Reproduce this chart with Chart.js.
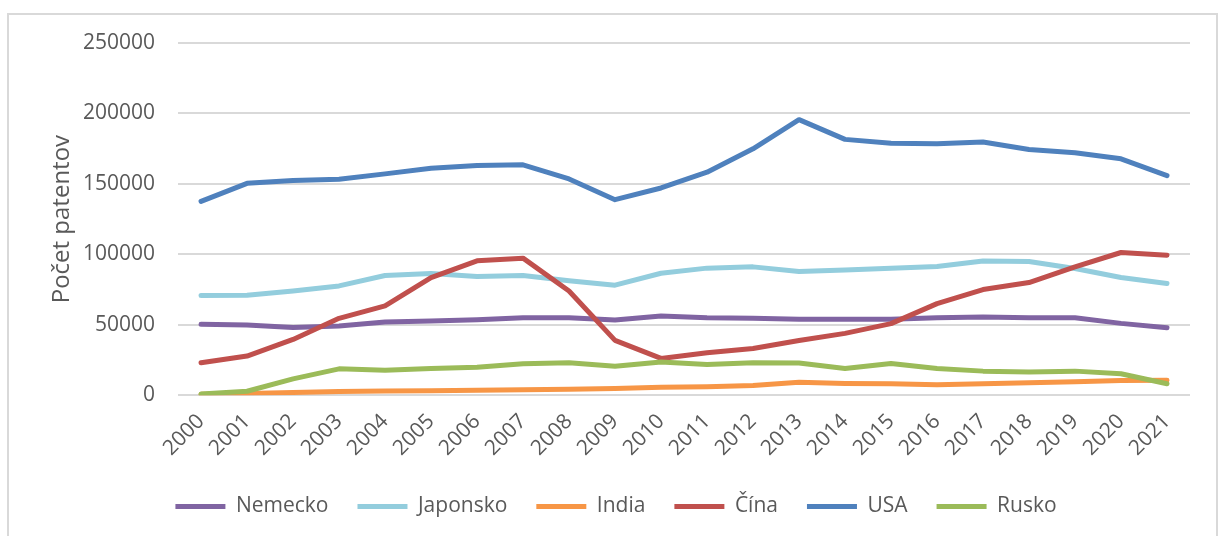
<!DOCTYPE html>
<html>
<head>
<meta charset="utf-8">
<script src="https://cdn.jsdelivr.net/npm/chart.js@4"></script>
<style>
  html, body { margin: 0; padding: 0; background: #fff; }
  #wrap { position: relative; width: 1219px; height: 536px; }
  #frame {
    position: absolute; left: 7px; top: 13px; width: 1211px; height: 540px;
    border: 2px solid #d9d9d9; box-sizing: border-box; pointer-events: none;
  }
</style>
</head>
<body>
<div id="wrap">
  <canvas id="patentChart" width="1219" height="536"></canvas>
  <div id="frame"></div>
</div>
<script>
const years = ["2000", "2001", "2002", "2003", "2004", "2005", "2006", "2007", "2008", "2009", "2010",
  "2011", "2012", "2013", "2014", "2015", "2016", "2017", "2018", "2019", "2020", "2021"];

const nemecko = [50300, 49800, 48000, 49100, 52000, 52700, 53600, 55000, 55000, 53400, 56200,
  55000, 54600, 53900, 53900, 53900, 55000, 55500, 55000, 55000, 51000, 47900];
const japonsko = [70700, 71000, 74000, 77600, 85000, 86400, 84300, 85000, 81200, 78100, 86600,
  90200, 91100, 87800, 88800, 90200, 91400, 95200, 94900, 89900, 83500, 79300];
const india = [700, 1200, 2000, 2700, 3000, 3200, 3600, 3800, 4300, 4700, 5600,
  6000, 6900, 9200, 8300, 8100, 7500, 8100, 8800, 9500, 10400, 10600];
const cina = [23000, 27800, 39600, 54600, 63400, 83500, 95400, 97300, 74000, 38900, 26100,
  30100, 33200, 38900, 43900, 50800, 65000, 75000, 80000, 91100, 101300, 99400];
const usa = [137600, 150400, 152400, 153300, 157100, 161100, 163000, 163500, 153500, 138800, 147100,
  158300, 174900, 195600, 181600, 178900, 178500, 179700, 174400, 172100, 167800, 155900];
const rusko = [900, 2800, 11600, 18700, 17800, 19000, 19900, 22300, 23000, 20600, 23500,
  21800, 23000, 22800, 19000, 22500, 19000, 17100, 16400, 17100, 15200, 8100];

const seriesNames = ["Nemecko", "Japonsko", "India", "Čína", "USA", "Rusko"];
const seriesData = [nemecko, japonsko, india, cina, usa, rusko];
const seriesColors = ["#8064a2", "#93cddd", "#f79646", "#c0504d", "#4f81bd", "#9bbb59"];

const font = "'Open Sans', 'DejaVu Sans', sans-serif";
const textColor = "#595959";

// later series are drawn on top, like in the original
const datasets = seriesNames.map((name, i) => ({
  label: name,
  data: seriesData[i],
  borderColor: seriesColors[i],
  backgroundColor: seriesColors[i],
  borderWidth: 5,
  borderCapStyle: "round",
  borderJoinStyle: "round",
  pointRadius: 0,
  pointHoverRadius: 0,
  tension: 0,
  fill: false,
  order: seriesNames.length - i,
}));

new Chart(document.getElementById("patentChart"), {
  type: "line",
  data: { labels: years, datasets: datasets },
  options: {
    responsive: false,
    animation: false,
    layout: { padding: { left: 42, right: 29, top: 43, bottom: 9 } },
    plugins: {
      tooltip: { enabled: false },
      legend: {
        position: "bottom",
        labels: {
          usePointStyle: true,
          pointStyle: "line",
          pointStyleWidth: 50,
          boxHeight: 20,
          padding: 29,
          color: textColor,
          font: { family: font, size: 21 },
          sort: (a, b) => a.datasetIndex - b.datasetIndex,
        },
      },
    },
    scales: {
      x: {
        offset: true,
        grid: { display: false },
        border: { display: false },
        ticks: {
          color: textColor,
          font: { family: font, size: 21 },
          minRotation: 45,
          maxRotation: 45,
          padding: 6,
        },
      },
      y: {
        min: 0,
        max: 250000,
        border: { display: false },
        grid: { color: "#d9d9d9", lineWidth: 2, drawTicks: true, tickLength: 21, tickColor: "rgba(0,0,0,0)" },
        ticks: {
          stepSize: 50000,
          color: textColor,
          font: { family: font, size: 21 },
          padding: 2,
          callback: (v) => String(v),
        },
        title: {
          display: true,
          text: "Počet patentov",
          color: textColor,
          font: { family: font, size: 24 },
          padding: { top: 5.6, bottom: 4.6 },
        },
      },
    },
  },
});
</script>
</body>
</html>
